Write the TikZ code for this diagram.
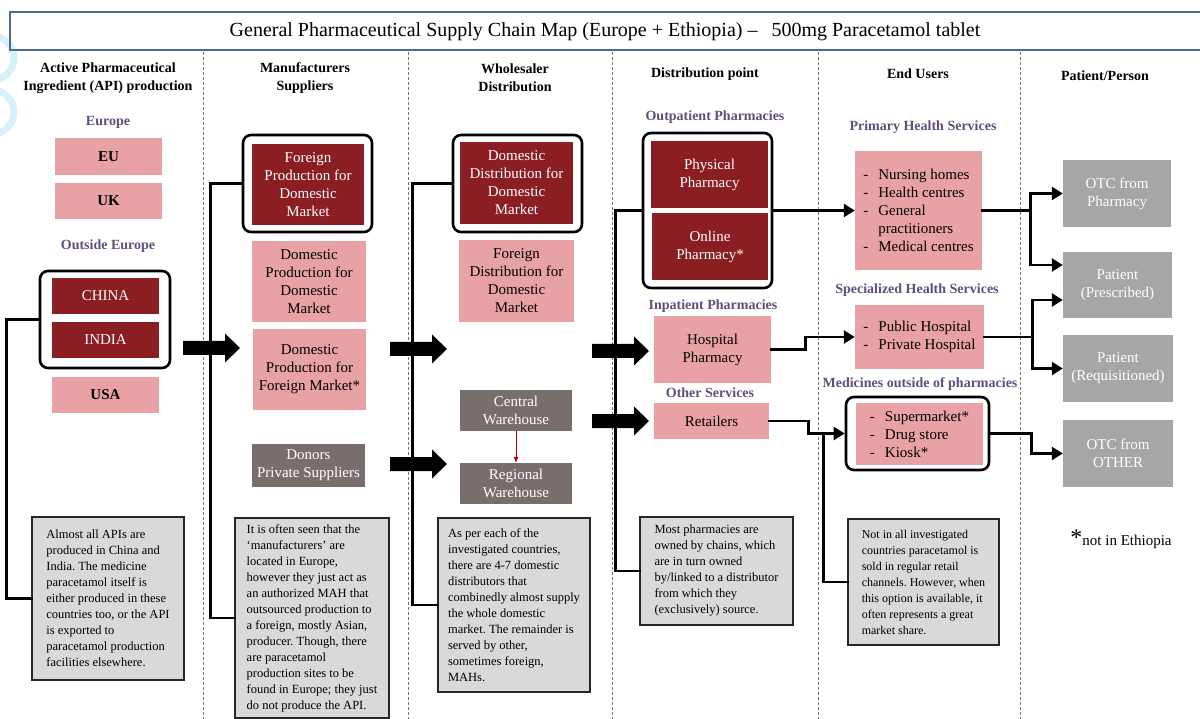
\documentclass[tikz,border=0pt]{standalone}
\usepackage{fontspec}
\setmainfont{Liberation Serif}
\usetikzlibrary{arrows.meta}
\frenchspacing
\definecolor{boxpink}{RGB}{232,162,166}
\definecolor{boxred}{RGB}{139,30,35}
\definecolor{boxbrown}{RGB}{120,111,109}
\definecolor{boxgrey}{RGB}{166,166,166}
\definecolor{notegrey}{RGB}{217,217,217}
\definecolor{grouppurple}{RGB}{96,76,125}
\definecolor{titleblue}{RGB}{76,104,146}
\definecolor{logocyan}{RGB}{214,240,252}
\tikzset{
  wh/.style 2 args={minimum width=#1pt, minimum height=#2pt},
  cell/.style={rectangle, inner sep=2pt, align=center, font=\fontsize{15}{18}\selectfont},
  pinkbox/.style={cell, fill=boxpink},
  redbox/.style={cell, fill=boxred, text=white},
  brownbox/.style={cell, fill=boxbrown, text=white},
  greybox/.style={cell, fill=boxgrey, text=white},
  groupbox/.style={rectangle, draw=black, line width=2.6pt, rounded corners=8pt, fill=white},
  grouplabel/.style={font=\bfseries\fontsize{14}{16}\selectfont, text=grouppurple},
  colhead/.style={align=center, font=\bfseries\fontsize{14}{18}\selectfont},
  notebox/.style={rectangle, draw=black!85, line width=1.6pt, fill=notegrey, align=left,
    inner xsep=8pt, font=\fontsize{12.5}{16}\selectfont},
  link/.style={line width=2.6pt, draw=black, line cap=rect},
  arrowlink/.style={link, -{Triangle[length=11pt,width=13pt]}},
  sepline/.style={draw=black!55, line width=0.8pt, dash pattern=on 3pt off 2pt},
}
\newcommand{\blockarrow}[2]{\fill[black] (#1,#2-7) -- ++(42,0) -- ++(0,-7.5) -- ++(15,14.5)
  -- ++(-15,14.5) -- ++(0,-7.5) -- ++(-42,0) -- cycle;}
\newcommand{\dashitem}{\makebox[15pt][l]{-}}
\begin{document}
\begin{tikzpicture}[x=1pt,y=-1pt]
    \useasboundingbox (0,0) rectangle (1200,719);
    % Logo remains at the left edge
    \draw[logocyan, line width=7pt] (-8,58) circle (22pt);
    \draw[logocyan, line width=7pt] (-8,112) circle (22pt);
    % Title
    \draw[titleblue, line width=1.5pt] (10,12) rectangle (1215,50);
    \node[font=\fontsize{20}{22}\selectfont] (title) at (605,32)
        {General Pharmaceutical Supply Chain Map (Europe + Ethiopia) --\hspace{14pt}500mg Paracetamol tablet};
    % Column separators
    \foreach \sx in {203,408,612,818,1020}
        \draw[sepline] (\sx,52) -- (\sx,719);
    % Column headers
    \node[colhead] (hapi) at (108,78) {Active Pharmaceutical\\Ingredient (API) production};
    \node[colhead] (hmfr) at (305,78) {Manufacturers\\Suppliers};
    \node[colhead] (hws) at (515,78) {Wholesaler\\Distribution};
    \node[colhead] (hdp) at (705,74) {Distribution point};
    \node[colhead] (heu) at (918,74) {End Users};
    \node[colhead] (hpat) at (1105,76) {Patient/Person};
    %
    % API production
    \node[grouplabel] (leurope) at (108,122) {Europe};
    \node[pinkbox, wh={107}{37}, font=\bfseries\fontsize{15}{18}\selectfont] (eu) at (108.5,156.5) {EU};
    \node[pinkbox, wh={107}{36}, font=\bfseries\fontsize{15}{18}\selectfont] (uk) at (108.5,201) {UK};
    \node[grouplabel] (loutside) at (108,246) {Outside Europe};
    \node[groupbox, wh={130}{97}] (apigroup) at (105,319.5) {};
    \node[redbox, wh={107}{36}] (china) at (105.5,296) {CHINA};
    \node[redbox, wh={107}{36}] (india) at (105.5,340) {INDIA};
    \node[pinkbox, wh={107}{36}, font=\bfseries\fontsize{15}{18}\selectfont] (usa) at (105.5,395) {USA};
    \node[notebox, wh={152}{163}] (apinote) at (108,598.5)
        {Almost all APIs are\\produced in China and\\India. The medicine\\paracetamol itself is\\either produced in these\\countries too, or the API\\is exported to\\paracetamol production\\facilities elsewhere.};
    %
    % Manufacturers / suppliers
    \node[groupbox, wh={129}{97}] (mfrgroup) at (307.5,183.5) {};
    \node[redbox, wh={112}{81}] (forprod) at (308,184.5) {Foreign\\Production for\\Domestic\\Market};
    \node[pinkbox, wh={114}{81}] (domdom) at (309,281.5) {Domestic\\Production for\\Domestic\\Market};
    \node[pinkbox, wh={113}{81}] (domfor) at (309.5,369.5) {Domestic\\Production for\\Foreign Market*};
    \node[brownbox, wh={113}{43}] (donors) at (308.5,465.5) {Donors\\Private Suppliers};
    \node[notebox, wh={154}{200}] (mfrnote) at (312,618)
        {It is often seen that the\\`manufacturers' are\\located in Europe,\\however they just act as\\an authorized MAH that\\outsourced production to\\a foreign, mostly Asian,\\producer. Though, there\\are paracetamol\\production sites to be\\found in Europe; they just\\do not produce the API.};
    %
    % Wholesaler distribution
    \node[groupbox, wh={129}{97}] (wsgroup) at (517.5,183.5) {};
    \node[redbox, wh={113}{82}] (domdist) at (516.5,183) {Domestic\\Distribution for\\Domestic\\Market};
    \node[pinkbox, wh={115}{82}] (fordist) at (516.5,281) {Foreign\\Distribution for\\Domestic\\Market};
    \node[brownbox, wh={112}{41}] (central) at (516,410.5) {Central\\Warehouse};
    \node[brownbox, wh={112}{41}] (regional) at (516,483.5) {Regional\\Warehouse};
    \node[notebox, wh={152}{174}] (wsnote) at (514,605)
        {As per each of the\\investigated countries,\\there are 4-7 domestic\\distributors that\\combinedly almost supply\\the whole domestic\\market. The remainder is\\served by other,\\sometimes foreign,\\MAHs.};
    %
    % Distribution point
    \node[grouplabel] (lout) at (715,117) {Outpatient Pharmacies};
    \node[groupbox, wh={129}{155}] (outgroup) at (707.5,210.5) {};
    \node[redbox, wh={117}{67}] (physical) at (709.5,174.5) {Physical\\Pharmacy};
    \node[redbox, wh={116}{67}] (online) at (710,246.5) {Online\\Pharmacy*};
    \node[grouplabel] (lin) at (713,306) {Inpatient Pharmacies};
    \node[pinkbox, wh={117}{67}] (hospital) at (712.5,349.5) {Hospital\\Pharmacy};
    \node[grouplabel] (lother) at (710,393) {Other Services};
    \node[pinkbox, wh={115}{36}] (retail) at (711.5,421) {Retailers};
    \node[notebox, wh={153}{108}] (dpnote) at (716.5,571)
        {Most pharmacies are\\owned by chains, which\\are in turn owned\\by/linked to a distributor\\from which they\\(exclusively) source.};
    %
    % End users
    \node[grouplabel] (lprim) at (923,127) {Primary Health Services};
    \node[pinkbox, wh={127}{119}, align=left] (primary) at (918.5,210.5)
        {\dashitem Nursing homes\\\dashitem Health centres\\\dashitem General\\\hspace*{15pt}practitioners\\\dashitem Medical centres};
    \node[grouplabel] (lspec) at (917,290) {Specialized Health Services};
    \node[pinkbox, wh={129}{64}, align=left] (special) at (919.5,337)
        {\dashitem Public Hospital\\\dashitem Private Hospital};
    \node[grouplabel] (lmeds) at (920,384) {Medicines outside of pharmacies};
    \node[groupbox, wh={143}{73}] (medgroup) at (917.5,433.5) {};
    \node[pinkbox, wh={127}{62}, align=left] (meds) at (919.5,434)
        {\dashitem Supermarket*\\\dashitem Drug store\\\dashitem Kiosk*};
    \node[notebox, wh={151}{126}, font=\fontsize{12}{16}\selectfont] (medsnote) at (923.5,582)
        {Not in all investigated\\countries paracetamol is\\sold in regular retail\\channels. However, when\\this option is available, it\\often represents a great\\market share.};
    %
    % Patient / person
    \node[greybox, wh={108}{67}] (otcph) at (1117,193.5) {OTC from\\Pharmacy};
    \node[greybox, wh={109}{66}] (patpre) at (1117.5,285) {Patient\\(Prescribed)};
    \node[greybox, wh={110}{67}] (patreq) at (1118,368.5) {Patient\\(Requisitioned)};
    \node[greybox, wh={110}{67}] (otcoth) at (1118,453.5) {OTC from\\OTHER};
    \node[font=\fontsize{15}{18}\selectfont] (footnote) at (1121,539)
        {{\fontsize{24}{24}\selectfont *}not in Ethiopia};
    %
    % Connectors to the notes
    \draw[link] (apigroup.west) -- ++(-32,0) |- (apinote.west);
    \draw[link] (mfrgroup.west) -- ++(-31,0) |- (mfrnote.west);
    \draw[link] (wsgroup.west) -- ++(-39,0) |- (wsnote.west);
    \draw[link] (outgroup.west) -- ++(-26,0) |- (dpnote.west);
    % Distribution point to end users
    \draw[arrowlink] (outgroup.east) -- (primary.west);
    \draw[arrowlink] (hospital.east) -- ++(34,0) |- (special.west);
    \draw[arrowlink] (retail.east) -- ++(39,0) |- (medgroup.west);
    \coordinate (medjoin) at ([xshift=-21pt]medgroup.west);
    \draw[link] (medjoin) |- (medsnote.west);
    % End users to patients
    \draw[link] (primary.east) -- ++(48,0) coordinate (pjoin);
    \draw[arrowlink] (pjoin) |- (otcph.west);
    \draw[arrowlink] (pjoin) |- ([yshift=20pt]patpre.west);
    \draw[link] (special.east) -- ++(48,0) coordinate (sjoin);
    \draw[arrowlink] (sjoin) |- ([yshift=-15pt]patpre.west);
    \draw[arrowlink] (sjoin) |- (patreq.west);
    \draw[arrowlink] (medgroup.east) -- ++(41,0) |- (otcoth.west);
    % Warehouse flow
    \draw[red!70!black, line width=0.8pt, -{Latex[length=6pt,width=5pt]}] (central.south) -- (regional.north);
    %
    % Flow between columns
    \blockarrow{183}{348}
    \blockarrow{390}{349}
    \blockarrow{390}{464}
    \blockarrow{592}{351}
    \blockarrow{592}{421}
\end{tikzpicture}
\end{document}
